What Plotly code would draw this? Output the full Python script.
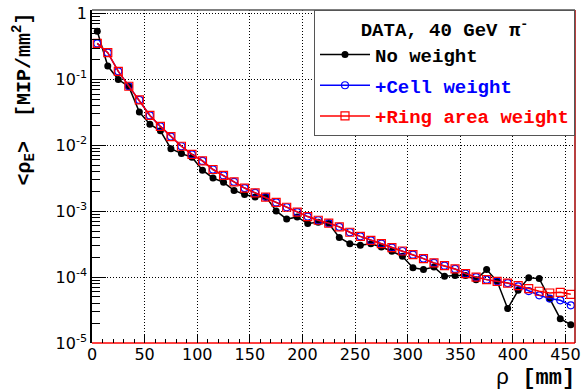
import plotly.graph_objects as go

rho = [5, 15, 25, 35, 45, 55, 65, 75, 85, 95, 105, 115, 125, 135, 145, 155, 165, 175, 185, 195,
       205, 215, 225, 235, 245, 255, 265, 275, 285, 295, 305, 315, 325, 335, 345, 355, 365, 375,
       385, 395, 405, 415, 425, 435, 445, 455]

no_weight = [0.54, 0.16, 0.10, 0.078, 0.032, 0.021, 0.0166, 0.0089, 0.0075, 0.0066, 0.0042, 0.0032,
             0.00275, 0.00207, 0.0018, 0.00164, 0.00168, 0.00101, 0.00076, 0.00082, 0.00065, 0.00068,
             0.00065, 0.0004, 0.000322, 0.000304, 0.000322, 0.000287, 0.000247, 0.000207, 0.000139,
             0.000131, 0.000142, 0.000103, 0.000106, 0.000106, 0.0000916, 0.00013, 0.0000863,
             0.0000333, 0.000063, 0.000098, 0.000095, 0.0000472, 0.0000234, 0.000019]

cell_weight = [0.353, 0.255, 0.133, 0.079, 0.049, 0.0285, 0.0194, 0.0136, 0.0097, 0.0073, 0.0058,
               0.0043, 0.0035, 0.0028, 0.00225, 0.0019, 0.00164, 0.00136, 0.00115, 0.00097, 0.00083,
               0.00073, 0.00066, 0.00058, 0.00048, 0.000416, 0.000361, 0.000322, 0.000281, 0.000249,
               0.000219, 0.000191, 0.000164, 0.000149, 0.000133, 0.000113, 0.0001, 0.0000916,
               0.0000863, 0.0000813, 0.0000725, 0.0000615, 0.000053, 0.0000472, 0.0000445, 0.0000373]

ring_weight = [0.353, 0.255, 0.133, 0.079, 0.049, 0.0285, 0.0194, 0.0136, 0.0097, 0.0073, 0.0058,
               0.0043, 0.0035, 0.0028, 0.00225, 0.0019, 0.00164, 0.00136, 0.00115, 0.00097, 0.00083,
               0.00073, 0.00066, 0.00058, 0.00048, 0.000416, 0.000361, 0.000322, 0.000281, 0.000249,
               0.000219, 0.000191, 0.000164, 0.000149, 0.000133, 0.000113, 0.0001, 0.0000916,
               0.0000863, 0.0000813, 0.0000743, 0.0000668, 0.000061, 0.0000574, 0.0000588, 0.0000548]

y_major = [1e-5, 1e-4, 1e-3, 1e-2, 1e-1, 1]
y_major_text = ["10<sup>-5</sup>", "10<sup>-4</sup>", "10<sup>-3</sup>", "10<sup>-2</sup>",
                "10<sup>-1</sup>", "1"]
y_minor = [k * 10.0 ** d for d in range(-5, 0) for k in range(2, 10)]

MONO = "Liberation Mono"
SANS = "DejaVu Sans"
DOT = "1px,2px"

fig = go.Figure()
fig.add_trace(go.Scatter(x=rho, y=no_weight, mode="lines+markers",
                         name="<span style='color:black'><b>No weight</b></span>",
                         line=dict(color="black", width=1.5),
                         marker=dict(symbol="circle", size=7, color="black"),
                         legendgroup="a"))
fig.add_trace(go.Scatter(x=rho, y=cell_weight, mode="lines+markers",
                         name="<span style='color:#0000ff'><b>+Cell weight</b></span>",
                         line=dict(color="#0000ff", width=1.5),
                         marker=dict(symbol="circle-open", size=7, color="#0000ff", line=dict(width=1.2)),
                         legendgroup="b"))
fig.add_trace(go.Scatter(x=rho, y=ring_weight, mode="lines+markers",
                         name="<span style='color:#ff0000'><b>+Ring area weight</b></span>",
                         line=dict(color="#ff0000", width=1.5),
                         marker=dict(symbol="square-open", size=8, color="#ff0000", line=dict(width=1.2)),
                         legendgroup="c"))

fig.update_layout(
    width=584, height=390,
    margin=dict(l=92, r=9, t=10, b=47, autoexpand=False),
    paper_bgcolor="white", plot_bgcolor="white",
    showlegend=True,
    legend=dict(
        x=1, xanchor="right", y=1.0, yanchor="top",
        bgcolor="white", bordercolor="#555", borderwidth=1,
        font=dict(family=MONO, size=19, color="black"),
        title=dict(text="<b>DATA, 40 GeV π<sup>-</sup></b>", side="top center",
                   font=dict(family=MONO, size=19, color="black")),
        itemwidth=50, tracegroupgap=3,
    ),
    xaxis=dict(
        range=[0, 459], tickmode="linear", tick0=0, dtick=50, automargin=False,
        ticks="inside", ticklen=8, tickwidth=1, tickcolor="black",
        showgrid=True, gridcolor="black", griddash=DOT, gridwidth=1,
        minor=dict(ticks="inside", ticklen=4, dtick=10, tick0=0, tickcolor="black", showgrid=False),
        tickfont=dict(family=SANS, size=16, color="black"),
        showline=False, zeroline=False,
    ),
    yaxis=dict(
        type="log", range=[-5, 0.055], automargin=False,
        tickmode="array", tickvals=y_major, ticktext=y_major_text,
        ticks="inside", ticklen=14, tickwidth=1, tickcolor="black",
        showgrid=True, gridcolor="black", griddash=DOT, gridwidth=1,
        minor=dict(ticks="inside", ticklen=8, tickmode="array", tickvals=y_minor,
                   tickcolor="black", showgrid=False),
        tickfont=dict(family=SANS, size=16, color="black"),
        showline=True, linecolor="black", linewidth=1.5, zeroline=False,
    ),
)

# frame lines: top (grey), right (dark red), bottom (red)
fig.add_shape(type="line", xref="paper", yref="paper", x0=0, x1=1, y0=1, y1=1,
              line=dict(color="#555555", width=1.5))
fig.add_shape(type="line", xref="paper", yref="paper", x0=1, x1=1, y0=0, y1=1,
              line=dict(color="#a00000", width=1.5))
fig.add_shape(type="line", xref="paper", yref="paper", x0=0, x1=1, y0=0, y1=0,
              line=dict(color="#ff0000", width=1.5), layer="below")

fig.add_annotation(text="<b>&lt;ρ<sub>E</sub>&gt;  [MIP/mm<sup>2</sup>]</b>", textangle=-90,
                   xref="paper", yref="paper", x=-0.141, y=1.0, xanchor="center", yanchor="top",
                   showarrow=False, font=dict(family=MONO, size=20, color="black"))
fig.add_annotation(text="ρ <b>[mm]</b>", xref="paper", yref="paper", x=1.004, y=-0.107,
                   xanchor="right", yanchor="middle", showarrow=False,
                   font=dict(family=MONO, size=22, color="black"))

fig.write_html("out.html")
